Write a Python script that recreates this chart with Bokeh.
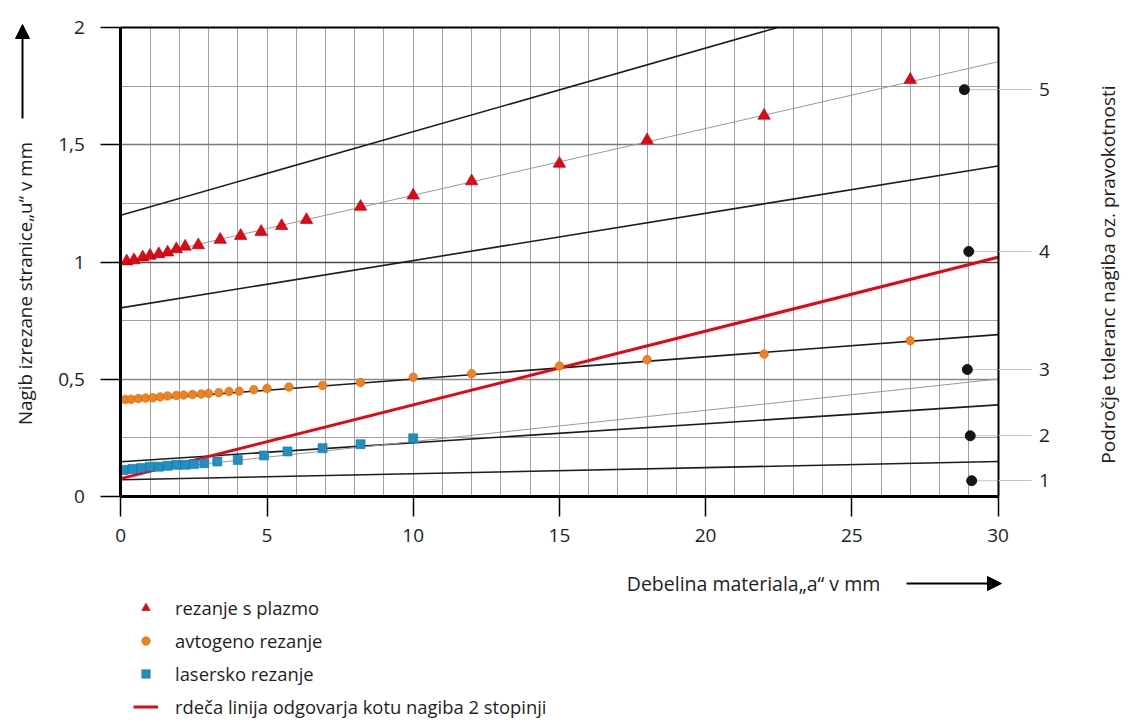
import math
from bokeh.plotting import figure
from bokeh.models import (Range1d, FixedTicker, SingleIntervalTicker, LinearAxis, Label,
                          Arrow, NormalHead, Legend, LegendItem, Grid)
from bokeh.embed import file_html
from bokeh.resources import INLINE

# ---------------- data ----------------
plasma_a = [0.2, 0.45, 0.75, 1.0, 1.3, 1.6, 1.9, 2.2, 2.65, 3.4, 4.1, 4.8, 5.5, 6.35,
            8.2, 10, 12, 15, 18, 22, 27]
plasma_u = [1.003, 1.008, 1.02, 1.027, 1.034, 1.041, 1.055, 1.066, 1.072, 1.095, 1.112,
            1.129, 1.154, 1.18, 1.236, 1.284, 1.345, 1.42, 1.52, 1.625, 1.778]

oxy_a = [0.15, 0.35, 0.6, 0.85, 1.1, 1.35, 1.6, 1.9, 2.15, 2.45, 2.75, 3.0, 3.35, 3.7,
         4.05, 4.55, 5.0, 5.75, 6.9, 8.2, 10, 12, 15, 18, 22, 27]
oxy_u = [0.413, 0.414, 0.417, 0.419, 0.42, 0.424, 0.428, 0.43, 0.432, 0.434, 0.436, 0.439,
         0.442, 0.447, 0.448, 0.455, 0.46, 0.466, 0.473, 0.486, 0.508, 0.523, 0.556, 0.583,
         0.607, 0.664]

laser_a = [0.1, 0.4, 0.7, 1.0, 1.3, 1.6, 1.9, 2.2, 2.5, 2.85, 3.3, 4.0, 4.9, 5.7, 6.9,
           8.2, 10]
laser_u = [0.112, 0.116, 0.12, 0.126, 0.126, 0.13, 0.134, 0.134, 0.137, 0.141, 0.148,
           0.155, 0.174, 0.191, 0.205, 0.222, 0.247]

line_a = [0, 30]                 # thickness at both ends of the straight lines
range1_u = [0.07, 0.148]
range2_u = [0.147, 0.39]
range3_u = [0.405, 0.69]
range4_u = [0.804, 1.41]
range5_u = [1.2, 2.27]
plasma_trend_u = [1.0, 1.855]
laser_trend_u = [0.1, 0.5]
red_2deg_u = [0.075, 1.02]

zone_labels = ["1", "2", "3", "4", "5"]
zone_a = [29.1, 29.05, 28.95, 29.0, 28.85]
zone_u = [0.066, 0.258, 0.541, 1.045, 1.736]

x_ticks = [0, 5, 10, 15, 20, 25, 30]
y_ticks = [0, 0.5, 1, 1.5, 2]
y_tick_labels = ["0", "0,5", "1", "1,5", "2"]

FONT = "Open Sans"
TXT = "#1e1e1e"

# ---------------- geometry (page pixels of the chart box) ----------------
W, H = 1127, 720
PX0, PX1 = 120.3, 997.5      # a = 0 .. 30
PY0, PY1 = 495.7, 27.3       # u = 0 .. 2
SX = 30.0 / (PX1 - PX0)
SY = 2.0 / (PY0 - PY1)
def fx(px):
    return (px - PX0) * SX
def fy(py):
    return (PY0 - py) * SY

p = figure(width=W, height=H,
           x_range=Range1d(fx(0), fx(W)), y_range=Range1d(fy(H), fy(0)),
           output_backend="svg", toolbar_location=None,
           min_border=0, min_border_left=0, min_border_right=0,
           min_border_top=0, min_border_bottom=0,
           background_fill_color="white", border_fill_color="white")
p.outline_line_color = None

# grids limited to the chart box
p.xgrid.ticker = SingleIntervalTicker(interval=1)
p.xgrid.bounds = (0, 30)
p.xgrid.cross_bounds = (0, 2)
p.xgrid.grid_line_color = "#a0a0a0"
p.ygrid.ticker = FixedTicker(ticks=[0.25 * i for i in range(1, 8)])
p.ygrid.bounds = (0, 2)
p.ygrid.cross_bounds = (0, 30)
p.ygrid.grid_line_color = "#a0a0a0"
for yv, c in [(0.5, "#8a8a8a"), (1.0, "#4a4a4a"), (1.5, "#7a7a7a")]:
    p.add_layout(Grid(dimension=1, ticker=FixedTicker(ticks=[yv]), bounds=(0, 2),
                      cross_bounds=(0, 30), grid_line_color=c, grid_line_width=1.3))

# axes drawn at fixed locations around the chart box
xa = p.xaxis[0]
xa.ticker = FixedTicker(ticks=x_ticks)
xa.fixed_location = 0
xa.bounds = (0, 30)
ya = p.yaxis[0]
ya.ticker = FixedTicker(ticks=y_ticks)
ya.fixed_location = 0
ya.bounds = (0, 2)
ya.major_label_overrides = {t: l for t, l in zip(y_ticks, y_tick_labels)}
for ax in (xa, ya):
    ax.axis_line_width = 3
    ax.axis_line_color = "black"
    ax.major_tick_out = 20
    ax.major_tick_in = 0
    ax.major_tick_line_width = 1.5
    ax.major_tick_line_color = "black"
    ax.minor_tick_line_color = None
    ax.major_label_text_font = FONT
    ax.major_label_text_font_size = "19px"
    ax.major_label_text_color = TXT
xa.major_label_standoff = 13
ya.major_label_standoff = 16

ra = LinearAxis(ticker=FixedTicker(ticks=zone_u), fixed_location=30, bounds=(0, 2),
                major_label_overrides={u: l for u, l in zip(zone_u, zone_labels)})
ra.axis_line_color = "black"
ra.axis_line_width = 2
ra.major_tick_out = 33
ra.major_tick_in = 0
ra.major_tick_line_color = "#c4c4c4"
ra.major_tick_line_width = 1
ra.minor_tick_line_color = None
ra.major_label_standoff = 8
ra.major_label_text_font = FONT
ra.major_label_text_font_size = "19px"
ra.major_label_text_color = TXT
p.add_layout(ra, "right")

ta = LinearAxis(ticker=FixedTicker(ticks=[]), fixed_location=2, bounds=(0, 30))
ta.axis_line_color = "black"
ta.axis_line_width = 2
ta.major_tick_line_color = None
ta.minor_tick_line_color = None
ta.major_label_text_font_size = "0px"
p.add_layout(ta, "above")

# straight lines (clipped to the top of the chart box)
def clip_top(u_pair, top=2.0):
    a0, a1 = line_a
    u0, u1 = u_pair
    if u1 <= top:
        return [a0, a1], [u0, u1]
    a_top = a0 + (top - u0) * (a1 - a0) / (u1 - u0)
    return [a0, a_top], [u0, top]

for u in (range1_u, range2_u, range3_u, range4_u, range5_u):
    xs, ys = clip_top(u)
    p.line(xs, ys, line_color="#1c1c1c", line_width=1.6)
p.line(line_a, plasma_trend_u, line_color="#9a9a9a", line_width=1)
p.line(line_a, laser_trend_u, line_color="#9a9a9a", line_width=1)

# leader lines of tolerance zones (outer part = right axis ticks)
for a, u in zip(zone_a, zone_u):
    p.line([a, 30], [u, u], line_color="#c4c4c4", line_width=1)

r_red = p.line(line_a, red_2deg_u, line_color="#e30613", line_width=3)

r_pl = p.scatter(plasma_a, plasma_u, marker="triangle", size=12.5,
                 fill_color="#e30613", line_color="#a8000e", line_width=0.6)
r_ox = p.scatter(oxy_a, oxy_u, marker="circle", size=8.5,
                 fill_color="#f0831e", line_color="#c86410", line_width=0.6)
r_la = p.scatter(laser_a, laser_u, marker="square", size=9,
                 fill_color="#1f8fc4", line_color="#16709c", line_width=0.6)
p.scatter(zone_a, zone_u, marker="circle", size=10, fill_color="#151515", line_color="#151515")

# legend below the chart box
legend = Legend(items=[LegendItem(label="rezanje s plazmo", renderers=[r_pl]),
                       LegendItem(label="avtogeno rezanje", renderers=[r_ox]),
                       LegendItem(label="lasersko rezanje", renderers=[r_la]),
                       LegendItem(label="rdeča linija odgovarja kotu nagiba 2 stopinji",
                                  renderers=[r_red])],
                location=(133, 1))
legend.border_line_color = None
legend.background_fill_alpha = 0
legend.padding = 0
legend.margin = 0
legend.spacing = 8
legend.label_height = 25
legend.glyph_height = 21
legend.glyph_width = 25
legend.label_standoff = 17
legend.label_text_font = FONT
legend.label_text_font_size = "18.4px"
legend.label_text_color = TXT
p.add_layout(legend)

# axis titles and arrows
lab_kw = dict(text_font=FONT, text_color=TXT, text_align="center", text_baseline="middle")
p.add_layout(Label(x=fx(24), y=fy(283), angle=math.pi / 2, text_font_size="18.8px",
                   text="Nagib izrezane stranice\u201eu\u201c v mm", **lab_kw))
p.add_layout(Label(x=fx(753), y=fy(583), text_font_size="19.5px",
                   text="Debelina materiala\u201ea\u201c v mm", **lab_kw))
p.add_layout(Label(x=fx(1107), y=fy(274), angle=math.pi / 2, text_font_size="19px",
                   text="Področje toleranc nagiba oz. pravokotnosti", **lab_kw))

p.add_layout(Arrow(x_start=fx(22), y_start=fy(118), x_end=fx(22), y_end=fy(24),
                   line_width=2, line_color="black",
                   end=NormalHead(size=14, fill_color="black", line_color="black")))
p.add_layout(Arrow(x_start=fx(906), y_start=fy(583), x_end=fx(1001), y_end=fy(583),
                   line_width=2, line_color="black",
                   end=NormalHead(size=14, fill_color="black", line_color="black")))

open("out.html", "w").write(file_html(p, INLINE))
